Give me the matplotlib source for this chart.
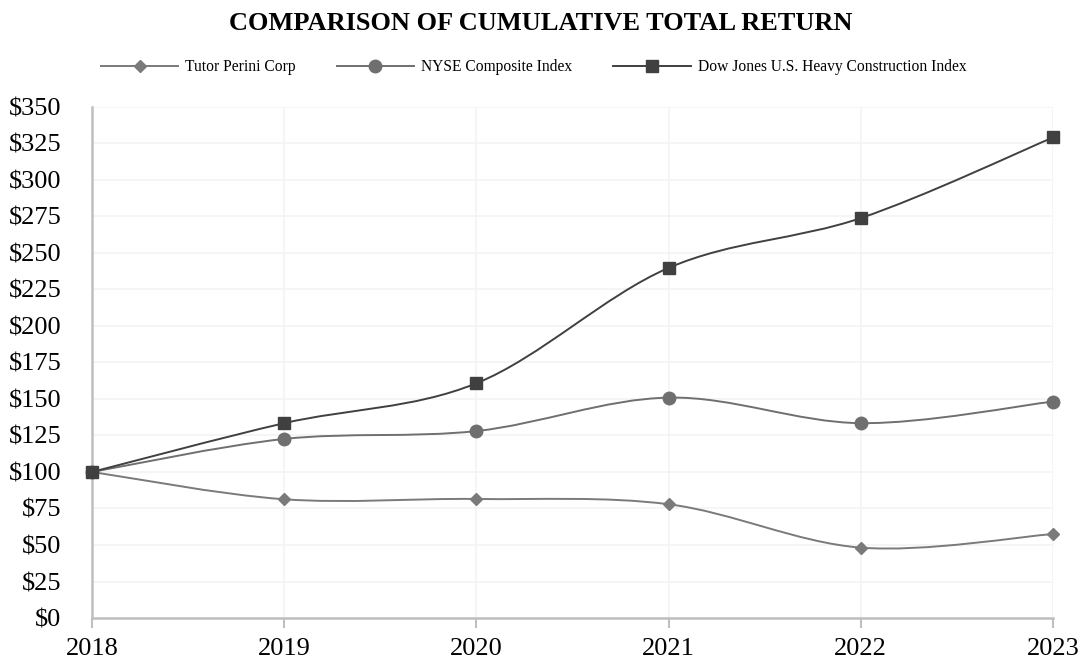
import numpy as np
import matplotlib
matplotlib.use("Agg")
import matplotlib.pyplot as plt
from matplotlib.path import Path
from matplotlib.patches import PathPatch
from matplotlib.lines import Line2D

plt.rcParams['font.family'] = ['Liberation Serif', 'DejaVu Serif']

years = [2018, 2019, 2020, 2021, 2022, 2023]
tutor = [100, 81.3, 81.5, 77.9, 48.2, 57.5]
nyse = [100, 122.6, 128.0, 150.9, 133.4, 148.2]
dowjones = [100, 133.4, 160.7, 239.7, 273.8, 329.0]

names = ["Tutor Perini Corp", "NYSE Composite Index",
         "Dow Jones U.S. Heavy Construction Index"]
colors = ["#7a7a7a", "#6f6f6f", "#404040"]
markers = ["D", "o", "s"]
msizes = [6.5, 9, 9]


def smooth_path(x, y):
    # Excel-like smoothed line: cubic bezier through the points
    x = np.asarray(x, float)
    y = np.asarray(y, float)
    n = len(x)
    verts = [(x[0], y[0])]
    codes = [Path.MOVETO]
    for i in range(n - 1):
        x0, y0 = (x[i - 1], y[i - 1]) if i > 0 else (x[i], y[i])
        x3, y3 = (x[i + 2], y[i + 2]) if i + 2 < n else (x[i + 1], y[i + 1])
        c1 = (x[i] + (x[i + 1] - x0) / 6, y[i] + (y[i + 1] - y0) / 6)
        c2 = (x[i + 1] - (x3 - x[i]) / 6, y[i + 1] - (y3 - y[i]) / 6)
        verts += [c1, c2, (x[i + 1], y[i + 1])]
        codes += [Path.CURVE4] * 3
    return Path(verts, codes)


fig = plt.figure(figsize=(10.81, 6.6), dpi=100)
ax = fig.add_axes([0.0851, 0.0636, 0.889, 0.7746])

handles = []
for vals, name, c, m, ms in zip([tutor, nyse, dowjones], names, colors, markers, msizes):
    ax.add_patch(PathPatch(smooth_path(years, vals), facecolor="none",
                           edgecolor=c, lw=1.4, zorder=3, clip_on=False))
    ax.plot(years, vals, ls="none", marker=m, ms=ms, color=c, zorder=4,
            clip_on=False)
    handles.append(Line2D([], [], color=c, lw=1.4, marker=m, ms=ms, label=name))

ax.set_xlim(2018, 2023)
ax.set_ylim(0, 350)
ax.set_xticks(years)
ax.set_yticks(np.arange(0, 351, 25))
ax.set_yticklabels(["$%d" % v for v in np.arange(0, 351, 25)])
ax.tick_params(axis="y", length=0, labelsize=19, pad=22, labelcolor="black")
ax.tick_params(axis="x", length=7.5, width=1.5, color="#bfbfbf", labelsize=19,
               pad=7, direction="out")
ax.grid(True, color="#f3f3f3", lw=1.2, zorder=0)
ax.set_axisbelow(True)
for s in ["top", "right"]:
    ax.spines[s].set_visible(False)
for s in ["left", "bottom"]:
    ax.spines[s].set_color("#bfbfbf")
    ax.spines[s].set_linewidth(1.8)

fig.text(0.5, 0.965, "COMPARISON OF CUMULATIVE TOTAL RETURN", ha="center",
         va="center", fontsize=19, fontweight="bold")
fig.legend(handles=handles, loc="center", bbox_to_anchor=(0.4935, 0.898), ncol=3,
           frameon=False, fontsize=11.2, handlelength=5, columnspacing=2.6,
           handletextpad=0.45)

fig.savefig("out.png", dpi=100)
